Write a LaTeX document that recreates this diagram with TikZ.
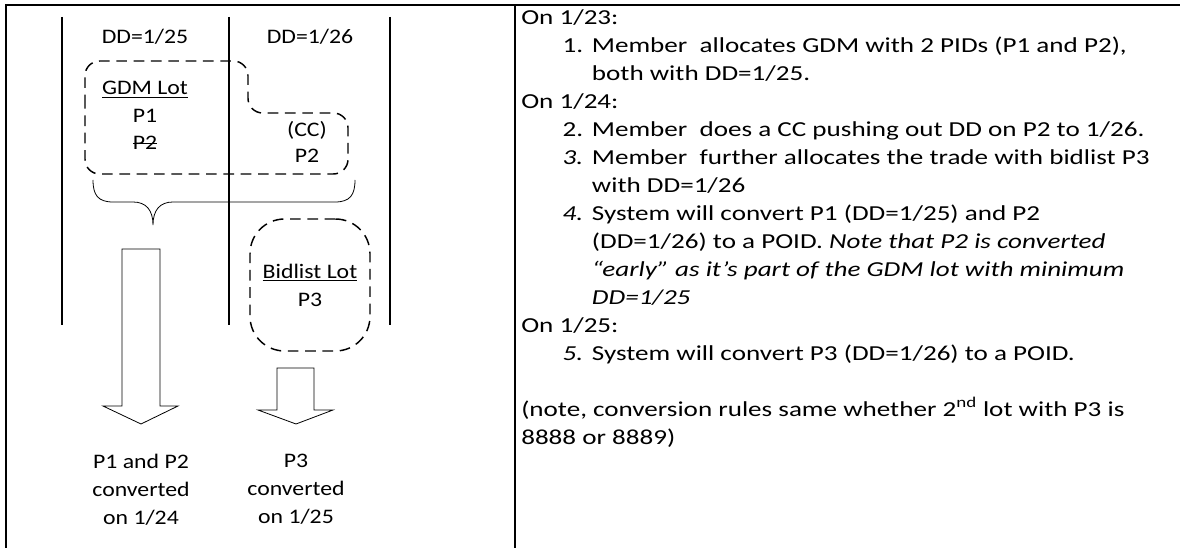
\documentclass[tikz,border=0pt]{standalone}
\usepackage{fontspec}
\setmainfont[FakeStretch=1.15]{Carlito}
\newfontfamily\notesfont[FakeStretch=1.27]{Carlito}
\usetikzlibrary{positioning}

\newcommand{\stepnum}[1]{\hspace*{31pt}\makebox[22pt][l]{#1}}
\newcommand{\stepcont}{\hspace*{53pt}}
\newsavebox{\strikebox}
\newcommand{\struck}[1]{\sbox{\strikebox}{#1}\rlap{\rule[0.3em]{\wd\strikebox}{0.6pt}}\usebox{\strikebox}}

\begin{document}
\begin{tikzpicture}[x=0.75pt,y=-0.75pt,font=\fontsize{15.5}{21}\selectfont,
  lbl/.style={inner sep=0pt,anchor=base},
  lotline/.style={line width=1.1pt,dash pattern=on 8pt off 5pt},
  lotbox/.style={draw,lotline,rounded corners=26pt,minimum width=90pt,minimum height=99pt,align=center,inner sep=0pt},
  colline/.style={line width=0.8pt},
  blockarrow/.style={line width=0.6pt,line join=miter},
  result/.style={inner sep=0pt,anchor=north,align=center}]
\useasboundingbox (0,0) rectangle (1180,548);
% table rules
\draw[line width=1.5pt] (6,548) -- (6,5) -- (1180,5);
\draw[line width=1pt] (515,5) -- (515,548);
% date columns
\foreach \x in {62,229,390} \draw[colline] (\x,17) -- (\x,325);
\node[lbl] (dd25) at (145,44) {DD=1/25};
\node[lbl] (dd26) at (310,44) {DD=1/26};
% GDM lot, P2 moved out by the CC
\draw[lotline,rounded corners=11pt] (85,120) -- (85,61) -- (248,61) -- (248,113) -- (348,113) -- (348,174) -- (85,174) -- cycle;
\node[lbl] (gdmlot) at (145,95) {\underline{GDM Lot}};
\node[lbl] (p1) at (145,123) {P1};
\node[lbl] (p2old) at (145,150) {\struck{P2}};
\node[lbl] (cc) at (307,137) {(CC)};
\node[lbl] (p2new) at (307,163) {P2};
% brace under the lot
\draw[line width=0.6pt] (93,180) .. controls (93,195) and (98,202) .. (113,202) -- (133,202)
  .. controls (146,202) and (153,210) .. (153,225)
  .. controls (153,210) and (160,202) .. (173,202) -- (335,202)
  .. controls (350,202) and (355,195) .. (355,180);
% bidlist lot
\node[lotbox] (bidlot) at (310,285) {\underline{Bidlist Lot}\\P3};
% conversion arrows
\draw[blockarrow] (122,249) -- (160,249) -- (160,406) -- (178,406) -- (141,424) -- (103,406) -- (122,406) -- cycle;
\draw[blockarrow] (277,368) -- (314,368) -- (314,410) -- (333,410) -- (296,424) -- (258,410) -- (277,410) -- cycle;
\node[result] (conv1) at (141,454) {P1 and P2\\converted\\on 1/24};
\node[result] (conv2) at (296,454) {P3\\converted\\on 1/25};
% steps
\node[inner sep=0pt,anchor=north west,align=left,font=\notesfont\fontsize{16}{21}\selectfont] (steps) at (521,9) {%
On 1/23:\\
\stepnum{1.}Member\ \ allocates GDM with 2 PIDs (P1 and P2),\\
\stepcont both with DD=1/25.\\
On 1/24:\\
\stepnum{2.}Member\ \ does a CC pushing out DD on P2 to 1/26.\\
\stepnum{\textit{3.}}Member\ \ further allocates the trade with bidlist P3\\
\stepcont with DD=1/26\\
\stepnum{\textit{4.}}System will convert P1 (DD=1/25) and P2\\
\stepcont (DD=1/26) to a POID. \textit{Note that P2 is converted}\\
\stepcont \textit{“early” as it’s part of the GDM lot with minimum}\\
\stepcont \textit{DD=1/25}\\
On 1/25:\\
\stepnum{\textit{5.}}System will convert P3 (DD=1/26) to a POID.\\[21pt]
(note, conversion rules same whether 2\textsuperscript{nd} lot with P3 is\\
8888 or 8889)};
\end{tikzpicture}
\end{document}
